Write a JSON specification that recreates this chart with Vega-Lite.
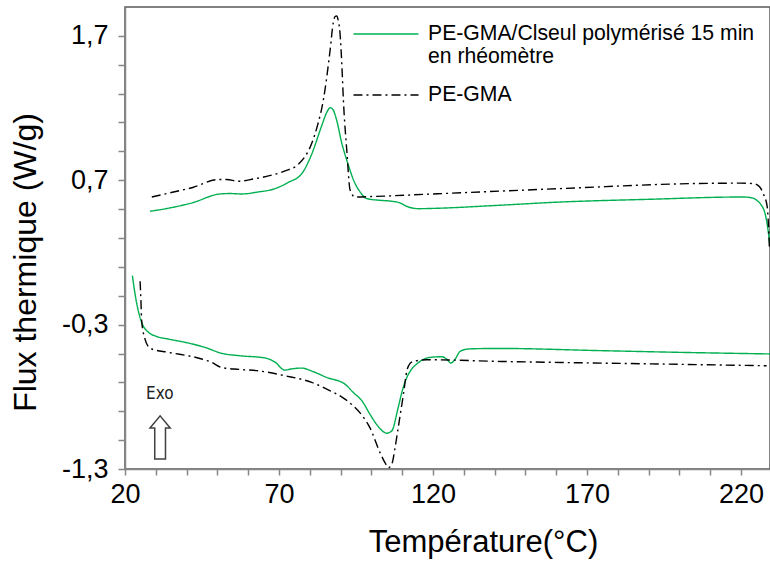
{
  "$schema": "https://vega.github.io/schema/vega-lite/v6.json",
  "width": 645,
  "height": 462,
  "autosize": "none",
  "padding": {"left": 125, "top": 7, "right": 0, "bottom": 92},
  "background": "white",
  "config": {
    "font": "Liberation Sans",
    "view": {"stroke": "#595959", "strokeWidth": 1.5},
    "axis": {
      "grid": false,
      "domainColor": "#868686",
      "domainWidth": 1.5,
      "tickColor": "#868686",
      "tickWidth": 1.5,
      "labelFont": "Liberation Sans",
      "labelColor": "#000000",
      "titleFont": "Liberation Sans",
      "titleColor": "#000000",
      "titleFontWeight": "normal",
      "labelOverlap": false,
      "labelFlush": false
    }
  },
  "datasets": {
    "curves": [
      {"sample": "PE-GMA/Clseul polymérisé 15 min en rhéomètre", "run": "refroidissement", "x": 28.1, "y": 0.485},
      {"sample": "PE-GMA/Clseul polymérisé 15 min en rhéomètre", "run": "refroidissement", "x": 35, "y": 0.51},
      {"sample": "PE-GMA/Clseul polymérisé 15 min en rhéomètre", "run": "refroidissement", "x": 42, "y": 0.545},
      {"sample": "PE-GMA/Clseul polymérisé 15 min en rhéomètre", "run": "refroidissement", "x": 50.8, "y": 0.605},
      {"sample": "PE-GMA/Clseul polymérisé 15 min en rhéomètre", "run": "refroidissement", "x": 54, "y": 0.608},
      {"sample": "PE-GMA/Clseul polymérisé 15 min en rhéomètre", "run": "refroidissement", "x": 57.9, "y": 0.605},
      {"sample": "PE-GMA/Clseul polymérisé 15 min en rhéomètre", "run": "refroidissement", "x": 63, "y": 0.618},
      {"sample": "PE-GMA/Clseul polymérisé 15 min en rhéomètre", "run": "refroidissement", "x": 68.7, "y": 0.642},
      {"sample": "PE-GMA/Clseul polymérisé 15 min en rhéomètre", "run": "refroidissement", "x": 73, "y": 0.685},
      {"sample": "PE-GMA/Clseul polymérisé 15 min en rhéomètre", "run": "refroidissement", "x": 77.4, "y": 0.746},
      {"sample": "PE-GMA/Clseul polymérisé 15 min en rhéomètre", "run": "refroidissement", "x": 80.6, "y": 0.88},
      {"sample": "PE-GMA/Clseul polymérisé 15 min en rhéomètre", "run": "refroidissement", "x": 83.9, "y": 1.08},
      {"sample": "PE-GMA/Clseul polymérisé 15 min en rhéomètre", "run": "refroidissement", "x": 85.5, "y": 1.17},
      {"sample": "PE-GMA/Clseul polymérisé 15 min en rhéomètre", "run": "refroidissement", "x": 86.6, "y": 1.202},
      {"sample": "PE-GMA/Clseul polymérisé 15 min en rhéomètre", "run": "refroidissement", "x": 87.5, "y": 1.19},
      {"sample": "PE-GMA/Clseul polymérisé 15 min en rhéomètre", "run": "refroidissement", "x": 88.7, "y": 1.117},
      {"sample": "PE-GMA/Clseul polymérisé 15 min en rhéomètre", "run": "refroidissement", "x": 90.4, "y": 0.955},
      {"sample": "PE-GMA/Clseul polymérisé 15 min en rhéomètre", "run": "refroidissement", "x": 92, "y": 0.839},
      {"sample": "PE-GMA/Clseul polymérisé 15 min en rhéomètre", "run": "refroidissement", "x": 94.7, "y": 0.677},
      {"sample": "PE-GMA/Clseul polymérisé 15 min en rhéomètre", "run": "refroidissement", "x": 96.3, "y": 0.62},
      {"sample": "PE-GMA/Clseul polymérisé 15 min en rhéomètre", "run": "refroidissement", "x": 98.5, "y": 0.573},
      {"sample": "PE-GMA/Clseul polymérisé 15 min en rhéomètre", "run": "refroidissement", "x": 102.8, "y": 0.561},
      {"sample": "PE-GMA/Clseul polymérisé 15 min en rhéomètre", "run": "refroidissement", "x": 106, "y": 0.556},
      {"sample": "PE-GMA/Clseul polymérisé 15 min en rhéomètre", "run": "refroidissement", "x": 109, "y": 0.545},
      {"sample": "PE-GMA/Clseul polymérisé 15 min en rhéomètre", "run": "refroidissement", "x": 112, "y": 0.515},
      {"sample": "PE-GMA/Clseul polymérisé 15 min en rhéomètre", "run": "refroidissement", "x": 115.2, "y": 0.503},
      {"sample": "PE-GMA/Clseul polymérisé 15 min en rhéomètre", "run": "refroidissement", "x": 120, "y": 0.505},
      {"sample": "PE-GMA/Clseul polymérisé 15 min en rhéomètre", "run": "refroidissement", "x": 140, "y": 0.525},
      {"sample": "PE-GMA/Clseul polymérisé 15 min en rhéomètre", "run": "refroidissement", "x": 161.2, "y": 0.549},
      {"sample": "PE-GMA/Clseul polymérisé 15 min en rhéomètre", "run": "refroidissement", "x": 190, "y": 0.568},
      {"sample": "PE-GMA/Clseul polymérisé 15 min en rhéomètre", "run": "refroidissement", "x": 220.6, "y": 0.584},
      {"sample": "PE-GMA/Clseul polymérisé 15 min en rhéomètre", "run": "refroidissement", "x": 223.5, "y": 0.578},
      {"sample": "PE-GMA/Clseul polymérisé 15 min en rhéomètre", "run": "refroidissement", "x": 225.1, "y": 0.561},
      {"sample": "PE-GMA/Clseul polymérisé 15 min en rhéomètre", "run": "refroidissement", "x": 226.5, "y": 0.53},
      {"sample": "PE-GMA/Clseul polymérisé 15 min en rhéomètre", "run": "refroidissement", "x": 227.8, "y": 0.469},
      {"sample": "PE-GMA/Clseul polymérisé 15 min en rhéomètre", "run": "refroidissement", "x": 228.6, "y": 0.38},
      {"sample": "PE-GMA/Clseul polymérisé 15 min en rhéomètre", "run": "refroidissement", "x": 229.2, "y": 0.283},
      {"sample": "PE-GMA/Clseul polymérisé 15 min en rhéomètre", "run": "refroidissement", "x": 229.4, "y": 0.25},

      {"sample": "PE-GMA", "run": "refroidissement", "x": 28.7, "y": 0.584},
      {"sample": "PE-GMA", "run": "refroidissement", "x": 35, "y": 0.615},
      {"sample": "PE-GMA", "run": "refroidissement", "x": 42, "y": 0.65},
      {"sample": "PE-GMA", "run": "refroidissement", "x": 50.3, "y": 0.705},
      {"sample": "PE-GMA", "run": "refroidissement", "x": 53, "y": 0.705},
      {"sample": "PE-GMA", "run": "refroidissement", "x": 56.8, "y": 0.693},
      {"sample": "PE-GMA", "run": "refroidissement", "x": 62, "y": 0.71},
      {"sample": "PE-GMA", "run": "refroidissement", "x": 67.6, "y": 0.735},
      {"sample": "PE-GMA", "run": "refroidissement", "x": 72, "y": 0.765},
      {"sample": "PE-GMA", "run": "refroidissement", "x": 76.3, "y": 0.811},
      {"sample": "PE-GMA", "run": "refroidissement", "x": 80.6, "y": 0.955},
      {"sample": "PE-GMA", "run": "refroidissement", "x": 82.5, "y": 1.08},
      {"sample": "PE-GMA", "run": "refroidissement", "x": 84.4, "y": 1.256},
      {"sample": "PE-GMA", "run": "refroidissement", "x": 86.6, "y": 1.603},
      {"sample": "PE-GMA", "run": "refroidissement", "x": 87.6, "y": 1.79},
      {"sample": "PE-GMA", "run": "refroidissement", "x": 88.2, "y": 1.834},
      {"sample": "PE-GMA", "run": "refroidissement", "x": 88.7, "y": 1.838},
      {"sample": "PE-GMA", "run": "refroidissement", "x": 89.3, "y": 1.8},
      {"sample": "PE-GMA", "run": "refroidissement", "x": 89.8, "y": 1.72},
      {"sample": "PE-GMA", "run": "refroidissement", "x": 90.4, "y": 1.5},
      {"sample": "PE-GMA", "run": "refroidissement", "x": 90.9, "y": 1.256},
      {"sample": "PE-GMA", "run": "refroidissement", "x": 92, "y": 0.908},
      {"sample": "PE-GMA", "run": "refroidissement", "x": 93.1, "y": 0.63},
      {"sample": "PE-GMA", "run": "refroidissement", "x": 94.7, "y": 0.584},
      {"sample": "PE-GMA", "run": "refroidissement", "x": 100, "y": 0.587},
      {"sample": "PE-GMA", "run": "refroidissement", "x": 120, "y": 0.605},
      {"sample": "PE-GMA", "run": "refroidissement", "x": 161.2, "y": 0.642},
      {"sample": "PE-GMA", "run": "refroidissement", "x": 204.5, "y": 0.677},
      {"sample": "PE-GMA", "run": "refroidissement", "x": 220, "y": 0.68},
      {"sample": "PE-GMA", "run": "refroidissement", "x": 224, "y": 0.677},
      {"sample": "PE-GMA", "run": "refroidissement", "x": 226, "y": 0.655},
      {"sample": "PE-GMA", "run": "refroidissement", "x": 227.2, "y": 0.608},
      {"sample": "PE-GMA", "run": "refroidissement", "x": 228.5, "y": 0.515},
      {"sample": "PE-GMA", "run": "refroidissement", "x": 229.2, "y": 0.237},

      {"sample": "PE-GMA/Clseul polymérisé 15 min en rhéomètre", "run": "chauffe", "x": 22.4, "y": 0.04},
      {"sample": "PE-GMA/Clseul polymérisé 15 min en rhéomètre", "run": "chauffe", "x": 23.2, "y": -0.08},
      {"sample": "PE-GMA/Clseul polymérisé 15 min en rhéomètre", "run": "chauffe", "x": 24.3, "y": -0.203},
      {"sample": "PE-GMA/Clseul polymérisé 15 min en rhéomètre", "run": "chauffe", "x": 25.4, "y": -0.284},
      {"sample": "PE-GMA/Clseul polymérisé 15 min en rhéomètre", "run": "chauffe", "x": 27.6, "y": -0.353},
      {"sample": "PE-GMA/Clseul polymérisé 15 min en rhéomètre", "run": "chauffe", "x": 30, "y": -0.38},
      {"sample": "PE-GMA/Clseul polymérisé 15 min en rhéomètre", "run": "chauffe", "x": 34.1, "y": -0.4},
      {"sample": "PE-GMA/Clseul polymérisé 15 min en rhéomètre", "run": "chauffe", "x": 40, "y": -0.425},
      {"sample": "PE-GMA/Clseul polymérisé 15 min en rhéomètre", "run": "chauffe", "x": 46, "y": -0.458},
      {"sample": "PE-GMA/Clseul polymérisé 15 min en rhéomètre", "run": "chauffe", "x": 51.4, "y": -0.499},
      {"sample": "PE-GMA/Clseul polymérisé 15 min en rhéomètre", "run": "chauffe", "x": 57, "y": -0.515},
      {"sample": "PE-GMA/Clseul polymérisé 15 min en rhéomètre", "run": "chauffe", "x": 65.5, "y": -0.531},
      {"sample": "PE-GMA/Clseul polymérisé 15 min en rhéomètre", "run": "chauffe", "x": 68.7, "y": -0.56},
      {"sample": "PE-GMA/Clseul polymérisé 15 min en rhéomètre", "run": "chauffe", "x": 71.9, "y": -0.615},
      {"sample": "PE-GMA/Clseul polymérisé 15 min en rhéomètre", "run": "chauffe", "x": 74, "y": -0.607},
      {"sample": "PE-GMA/Clseul polymérisé 15 min en rhéomètre", "run": "chauffe", "x": 77.4, "y": -0.601},
      {"sample": "PE-GMA/Clseul polymérisé 15 min en rhéomètre", "run": "chauffe", "x": 81, "y": -0.625},
      {"sample": "PE-GMA/Clseul polymérisé 15 min en rhéomètre", "run": "chauffe", "x": 85.5, "y": -0.666},
      {"sample": "PE-GMA/Clseul polymérisé 15 min en rhéomètre", "run": "chauffe", "x": 91.4, "y": -0.712},
      {"sample": "PE-GMA/Clseul polymérisé 15 min en rhéomètre", "run": "chauffe", "x": 94.1, "y": -0.77},
      {"sample": "PE-GMA/Clseul polymérisé 15 min en rhéomètre", "run": "chauffe", "x": 97, "y": -0.83},
      {"sample": "PE-GMA/Clseul polymérisé 15 min en rhéomètre", "run": "chauffe", "x": 99.5, "y": -0.92},
      {"sample": "PE-GMA/Clseul polymérisé 15 min en rhéomètre", "run": "chauffe", "x": 102, "y": -1.0},
      {"sample": "PE-GMA/Clseul polymérisé 15 min en rhéomètre", "run": "chauffe", "x": 105, "y": -1.052},
      {"sample": "PE-GMA/Clseul polymérisé 15 min en rhéomètre", "run": "chauffe", "x": 106.6, "y": -1.036},
      {"sample": "PE-GMA/Clseul polymérisé 15 min en rhéomètre", "run": "chauffe", "x": 108.7, "y": -0.874},
      {"sample": "PE-GMA/Clseul polymérisé 15 min en rhéomètre", "run": "chauffe", "x": 110, "y": -0.76},
      {"sample": "PE-GMA/Clseul polymérisé 15 min en rhéomètre", "run": "chauffe", "x": 111.5, "y": -0.666},
      {"sample": "PE-GMA/Clseul polymérisé 15 min en rhéomètre", "run": "chauffe", "x": 113, "y": -0.61},
      {"sample": "PE-GMA/Clseul polymérisé 15 min en rhéomètre", "run": "chauffe", "x": 114.7, "y": -0.573},
      {"sample": "PE-GMA/Clseul polymérisé 15 min en rhéomètre", "run": "chauffe", "x": 117, "y": -0.54},
      {"sample": "PE-GMA/Clseul polymérisé 15 min en rhéomètre", "run": "chauffe", "x": 119, "y": -0.527},
      {"sample": "PE-GMA/Clseul polymérisé 15 min en rhéomètre", "run": "chauffe", "x": 122.8, "y": -0.522},
      {"sample": "PE-GMA/Clseul polymérisé 15 min en rhéomètre", "run": "chauffe", "x": 124.5, "y": -0.54},
      {"sample": "PE-GMA/Clseul polymérisé 15 min en rhéomètre", "run": "chauffe", "x": 125.8, "y": -0.566},
      {"sample": "PE-GMA/Clseul polymérisé 15 min en rhéomètre", "run": "chauffe", "x": 127, "y": -0.545},
      {"sample": "PE-GMA/Clseul polymérisé 15 min en rhéomètre", "run": "chauffe", "x": 128.8, "y": -0.485},
      {"sample": "PE-GMA/Clseul polymérisé 15 min en rhéomètre", "run": "chauffe", "x": 131, "y": -0.47},
      {"sample": "PE-GMA/Clseul polymérisé 15 min en rhéomètre", "run": "chauffe", "x": 133.1, "y": -0.467},
      {"sample": "PE-GMA/Clseul polymérisé 15 min en rhéomètre", "run": "chauffe", "x": 141.8, "y": -0.465},
      {"sample": "PE-GMA/Clseul polymérisé 15 min en rhéomètre", "run": "chauffe", "x": 174, "y": -0.48},
      {"sample": "PE-GMA/Clseul polymérisé 15 min en rhéomètre", "run": "chauffe", "x": 200, "y": -0.492},
      {"sample": "PE-GMA/Clseul polymérisé 15 min en rhéomètre", "run": "chauffe", "x": 229.4, "y": -0.503},

      {"sample": "PE-GMA", "run": "chauffe", "x": 24.9, "y": 0.0},
      {"sample": "PE-GMA", "run": "chauffe", "x": 25.2, "y": -0.15},
      {"sample": "PE-GMA", "run": "chauffe", "x": 25.4, "y": -0.272},
      {"sample": "PE-GMA", "run": "chauffe", "x": 26.5, "y": -0.4},
      {"sample": "PE-GMA", "run": "chauffe", "x": 27.5, "y": -0.45},
      {"sample": "PE-GMA", "run": "chauffe", "x": 28.7, "y": -0.469},
      {"sample": "PE-GMA", "run": "chauffe", "x": 34.1, "y": -0.492},
      {"sample": "PE-GMA", "run": "chauffe", "x": 44.9, "y": -0.538},
      {"sample": "PE-GMA", "run": "chauffe", "x": 48, "y": -0.56},
      {"sample": "PE-GMA", "run": "chauffe", "x": 51.4, "y": -0.597},
      {"sample": "PE-GMA", "run": "chauffe", "x": 57, "y": -0.61},
      {"sample": "PE-GMA", "run": "chauffe", "x": 63.3, "y": -0.62},
      {"sample": "PE-GMA", "run": "chauffe", "x": 71.9, "y": -0.654},
      {"sample": "PE-GMA", "run": "chauffe", "x": 80.6, "y": -0.7},
      {"sample": "PE-GMA", "run": "chauffe", "x": 85.5, "y": -0.747},
      {"sample": "PE-GMA", "run": "chauffe", "x": 91.4, "y": -0.816},
      {"sample": "PE-GMA", "run": "chauffe", "x": 94.1, "y": -0.863},
      {"sample": "PE-GMA", "run": "chauffe", "x": 97, "y": -0.93},
      {"sample": "PE-GMA", "run": "chauffe", "x": 99.5, "y": -1.013},
      {"sample": "PE-GMA", "run": "chauffe", "x": 102.8, "y": -1.187},
      {"sample": "PE-GMA", "run": "chauffe", "x": 104.5, "y": -1.26},
      {"sample": "PE-GMA", "run": "chauffe", "x": 105.5, "y": -1.291},
      {"sample": "PE-GMA", "run": "chauffe", "x": 106.6, "y": -1.267},
      {"sample": "PE-GMA", "run": "chauffe", "x": 107.7, "y": -1.15},
      {"sample": "PE-GMA", "run": "chauffe", "x": 108.7, "y": -1.013},
      {"sample": "PE-GMA", "run": "chauffe", "x": 110.4, "y": -0.781},
      {"sample": "PE-GMA", "run": "chauffe", "x": 111.5, "y": -0.62},
      {"sample": "PE-GMA", "run": "chauffe", "x": 112.5, "y": -0.57},
      {"sample": "PE-GMA", "run": "chauffe", "x": 113.6, "y": -0.555},
      {"sample": "PE-GMA", "run": "chauffe", "x": 117.9, "y": -0.543},
      {"sample": "PE-GMA", "run": "chauffe", "x": 141.8, "y": -0.555},
      {"sample": "PE-GMA", "run": "chauffe", "x": 161.2, "y": -0.562},
      {"sample": "PE-GMA", "run": "chauffe", "x": 200, "y": -0.575},
      {"sample": "PE-GMA", "run": "chauffe", "x": 228.3, "y": -0.585}
    ],
    "notes": [
      {"x": 31.3, "y": -0.779, "label": "Exo"}
    ],
    "arrow": [
      {"x": 31.4, "y": -1.081}
    ]
  },
  "layer": [
    {
      "data": {"name": "curves"},
      "mark": {"type": "line", "interpolate": "monotone", "strokeWidth": 1.4, "clip": true},
      "encoding": {
        "x": {
          "field": "x", "type": "quantitative",
          "scale": {"domain": [20, 229.4], "nice": false, "zero": false},
          "axis": {
            "title": "Température(°C)",
            "values": [20, 30, 40, 50, 60, 70, 80, 90, 100, 110, 120, 130, 140, 150, 160, 170, 180, 190, 200, 210, 220],
            "tickCount": 100,
            "labelExpr": "datum.value % 50 == 20 ? format(datum.value, 'd') : ''",
            "labelOverlap": false,
            "labelFlush": false,
            "labelFontSize": 27,
            "labelPadding": 6,
            "tickSize": 6,
            "titleFontSize": 31,
            "titleX": 358,
            "titleY": 82,
            "titleBaseline": "alphabetic"
          }
        },
        "y": {
          "field": "y", "type": "quantitative",
          "scale": {"domain": [-1.3, 1.9], "nice": false, "zero": false},
          "axis": {
            "title": "Flux thermique (W/g)",
            "values": [-1.3, -1.1, -0.9, -0.7, -0.5, -0.3, -0.1, 0.1, 0.3, 0.5, 0.7, 0.9, 1.1, 1.3, 1.5, 1.7],
            "tickCount": 100,
            "labelExpr": "abs(round((datum.value + 1.3) * 10)) % 10 == 0 ? (datum.value < 0 ? '-' : '') + replace(format(abs(datum.value), '.1f'), '.', ',') : ''",
            "labelOverlap": false,
            "labelFlush": false,
            "labelFontSize": 27,
            "labelPadding": 10,
            "tickSize": 7,
            "titleFontSize": 32,
            "titleX": -90,
            "titleY": 255,
            "titleBaseline": "alphabetic",
            "encode": {"ticks": {"update": {"x": {"value": 6}}}}
          }
        },
        "color": {
          "field": "sample", "type": "nominal",
          "scale": {"domain": ["PE-GMA/Clseul polymérisé 15 min en rhéomètre", "PE-GMA"], "range": ["#00B050", "#000000"]},
          "legend": {
            "title": null,
            "orient": "none",
            "legendX": 249,
            "legendY": 15,
            "padding": 0,
            "symbolType": "M-3,0L3,0",
            "symbolSize": 470,
            "symbolStrokeWidth": 1.5,
            "labelFontSize": 21.2,
            "labelFont": "Liberation Sans",
            "labelColor": "#000000",
            "labelOffset": 30,
            "labelLimit": 500,
            "rowPadding": 15,
            "labelBaseline": "middle",
            "labelExpr": "datum.value == 'PE-GMA' ? 'PE-GMA' : ['PE-GMA/Clseul polymérisé 15 min', 'en rhéomètre']"
          }
        },
        "strokeDash": {
          "field": "sample", "type": "nominal",
          "scale": {"domain": ["PE-GMA/Clseul polymérisé 15 min en rhéomètre", "PE-GMA"], "range": [[1, 0], [9, 4, 2, 4]]},
          "legend": null
        },
        "detail": {"field": "run"}
      }
    },
    {
      "data": {"name": "notes"},
      "mark": {"type": "text", "font": "Liberation Sans Narrow, DejaVu Sans Condensed", "fontSize": 17, "color": "#222222"},
      "encoding": {
        "x": {"field": "x", "type": "quantitative"},
        "y": {"field": "y", "type": "quantitative"},
        "text": {"field": "label"}
      }
    },
    {
      "data": {"name": "arrow"},
      "mark": {"type": "point", "shape": "M-0.25,1 L-0.25,-0.44 L-0.47,-0.44 L0,-1 L0.47,-0.44 L0.25,-0.44 L0.25,1 Z", "size": 1849, "filled": true, "fill": "white", "stroke": "#404040", "strokeWidth": 1.5, "opacity": 1},
      "encoding": {
        "x": {"field": "x", "type": "quantitative"},
        "y": {"field": "y", "type": "quantitative"}
      }
    }
  ]
}
